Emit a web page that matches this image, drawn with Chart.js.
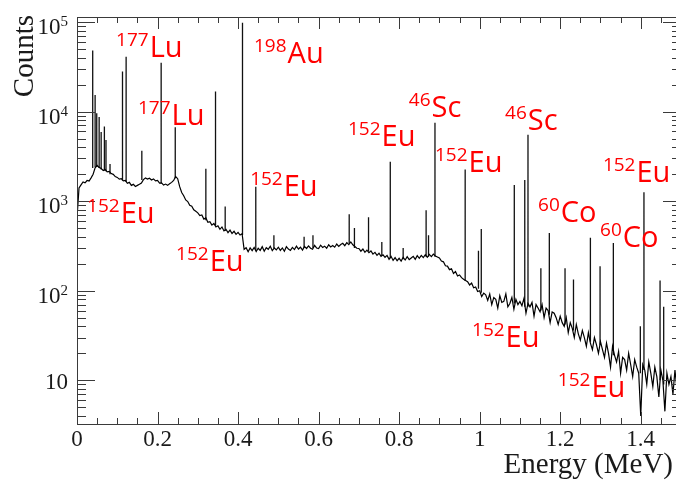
<!DOCTYPE html>
<html>
<head>
<meta charset="utf-8">
<script src="https://cdn.jsdelivr.net/npm/chart.js@4.4.0/dist/chart.umd.min.js"></script>
<style>
    html, body { margin: 0; padding: 0; background: #fff; overflow: hidden; }
    #wrap { width: 682px; height: 481px; }
</style>
</head>
<body>
<div id="wrap"><canvas id="spectrum" width="682" height="481"></canvas></div>
<script>
// --- Spectrum data ---
// continuum, one point every 5 keV
const bgEnergy = [
    0.000, 0.005, 0.010, 0.015, 0.020, 0.025, 0.030, 0.035, 0.040, 0.045,
    0.050, 0.055, 0.060, 0.065, 0.070, 0.075, 0.080, 0.085, 0.090, 0.095,
    0.100, 0.105, 0.110, 0.115, 0.120, 0.125, 0.130, 0.135, 0.140, 0.145,
    0.150, 0.155, 0.160, 0.165, 0.170, 0.175, 0.180, 0.185, 0.190, 0.195,
    0.200, 0.205, 0.210, 0.215, 0.220, 0.225, 0.230, 0.235, 0.240, 0.245,
    0.250, 0.255, 0.260, 0.265, 0.270, 0.275, 0.280, 0.285, 0.290, 0.295,
    0.300, 0.305, 0.310, 0.315, 0.320, 0.325, 0.330, 0.335, 0.340, 0.345,
    0.350, 0.355, 0.360, 0.365, 0.370, 0.375, 0.380, 0.385, 0.390, 0.395,
    0.400, 0.405, 0.410, 0.415, 0.420, 0.425, 0.430, 0.435, 0.440, 0.445,
    0.450, 0.455, 0.460, 0.465, 0.470, 0.475, 0.480, 0.485, 0.490, 0.495,
    0.500, 0.505, 0.510, 0.515, 0.520, 0.525, 0.530, 0.535, 0.540, 0.545,
    0.550, 0.555, 0.560, 0.565, 0.570, 0.575, 0.580, 0.585, 0.590, 0.595,
    0.600, 0.605, 0.610, 0.615, 0.620, 0.625, 0.630, 0.635, 0.640, 0.645,
    0.650, 0.655, 0.660, 0.665, 0.670, 0.675, 0.680, 0.685, 0.690, 0.695,
    0.700, 0.705, 0.710, 0.715, 0.720, 0.725, 0.730, 0.735, 0.740, 0.745,
    0.750, 0.755, 0.760, 0.765, 0.770, 0.775, 0.780, 0.785, 0.790, 0.795,
    0.800, 0.805, 0.810, 0.815, 0.820, 0.825, 0.830, 0.835, 0.840, 0.845,
    0.850, 0.855, 0.860, 0.865, 0.870, 0.875, 0.880, 0.885, 0.890, 0.895,
    0.900, 0.905, 0.910, 0.915, 0.920, 0.925, 0.930, 0.935, 0.940, 0.945,
    0.950, 0.955, 0.960, 0.965, 0.970, 0.975, 0.980, 0.985, 0.990, 0.995,
    1.000, 1.005, 1.010, 1.015, 1.020, 1.025, 1.030, 1.035, 1.040, 1.045,
    1.050, 1.055, 1.060, 1.065, 1.070, 1.075, 1.080, 1.085, 1.090, 1.095,
    1.100, 1.105, 1.110, 1.115, 1.120, 1.125, 1.130, 1.135, 1.140, 1.145,
    1.150, 1.155, 1.160, 1.165, 1.170, 1.175, 1.180, 1.185, 1.190, 1.195,
    1.200, 1.205, 1.210, 1.215, 1.220, 1.225, 1.230, 1.235, 1.240, 1.245,
    1.250, 1.255, 1.260, 1.265, 1.270, 1.275, 1.280, 1.285, 1.290, 1.295,
    1.300, 1.305, 1.310, 1.315, 1.320, 1.325, 1.330, 1.335, 1.340, 1.345,
    1.350, 1.355, 1.360, 1.365, 1.370, 1.375, 1.380, 1.385, 1.390, 1.395,
    1.400, 1.405, 1.410, 1.415, 1.420, 1.425, 1.430, 1.435, 1.440, 1.445,
    1.450, 1.455, 1.460, 1.465, 1.470, 1.475, 1.480, 1.485, 1.490, 1.495
];
const bgCounts = [
    650, 1400, 1520, 1640, 1600, 1700, 1680, 1820, 2000, 2350,
    2500, 2380, 2320, 2200, 2250, 2120, 2150, 2030, 1990, 1880,
    1840, 1760, 1780, 1680, 1700, 1580, 1620, 1500, 1540, 1460,
    1500, 1540, 1590, 1740, 1810, 1760, 1800, 1720, 1770, 1680,
    1700, 1590, 1600, 1510, 1550, 1500, 1560, 1620, 1700, 1880,
    1780, 1450, 1250, 1150, 1030, 990, 900, 880, 800, 770,
    740, 690, 700, 630, 650, 580, 590, 540, 565, 515,
    530, 485, 515, 465, 485, 445, 475, 435, 460, 425,
    448, 418, 432, 290, 302, 272, 300, 280, 304, 274,
    298, 282, 310, 276, 302, 290, 314, 280, 300, 286,
    306, 282, 300, 276, 310, 292, 282, 304, 288, 314,
    292, 306, 284, 312, 296, 316, 298, 290, 320, 300,
    296, 322, 304, 314, 298, 326, 308, 320, 306, 332,
    312, 328, 338, 318, 344, 328, 350, 326, 312, 298,
    296, 276, 292, 268, 284, 266, 278, 256, 268, 248,
    262, 242, 252, 236, 248, 224, 242, 218, 234, 216,
    230, 214, 236, 220, 240, 222, 232, 242, 224, 246,
    230, 248, 234, 252, 236, 254, 240, 256, 244, 238,
    232, 214, 210, 190, 188, 172, 176, 156, 164, 146,
    150, 140, 134, 130, 126, 116, 122, 108, 110, 98,
    100, 86, 94, 90, 78, 92, 70, 84, 80, 64,
    88, 74, 76, 92, 66, 72, 84, 62, 80, 70,
    76, 68, 82, 56, 72, 66, 74, 52, 70, 64,
    58, 70, 50, 64, 60, 44, 58, 56, 50, 42,
    52, 44, 40, 50, 34, 44, 38, 30, 42, 33,
    28, 36, 30, 24, 34, 26, 22, 30, 25, 20,
    27, 22, 18, 26, 20, 14, 24, 19, 16, 21,
    12, 18, 17, 13, 20, 15, 11, 17, 14, 12,
    4, 15, 13, 9, 16, 12, 8.5, 14, 11, 6.5,
    13, 10, 4.5, 12, 9, 11, 7, 13, 8, 10
];

// photopeaks: position, top of the peak, continuum under it
const peakEnergy = [
    0.039, 0.045, 0.049, 0.055, 0.060, 0.068, 0.072, 0.082, 0.113, 0.122,
    0.161, 0.209, 0.244, 0.320, 0.344, 0.368, 0.411, 0.444, 0.489, 0.564,
    0.586, 0.676, 0.689, 0.724, 0.757, 0.778, 0.810, 0.867, 0.873, 0.889,
    0.964, 0.997, 1.004, 1.086, 1.112, 1.120, 1.152, 1.173, 1.212, 1.233,
    1.275, 1.299, 1.332, 1.399, 1.408, 1.448, 1.457
];
const peakTop = [
    48000, 15300, 9600, 8700, 5900, 6800, 4800, 2600, 28000, 41000,
    3650, 35000, 6700, 2300, 16800, 870, 98000, 1450, 415, 400,
    415, 715, 500, 660, 350, 2750, 300, 790, 415, 7500,
    2250, 280, 490, 1510, 1720, 5500, 178, 440, 178, 133,
    390, 187, 340, 40, 1260, 130, 66
];
const peakBase = [
    2350, 2400, 2400, 2350, 2250, 2200, 2150, 2000, 1700, 1640,
    1720, 1570, 1800, 610, 530, 465, 420, 285, 300, 300,
    300, 340, 300, 275, 245, 230, 225, 240, 240, 240,
    128, 105, 95, 72, 66, 66, 60, 54, 42, 36,
    27, 25, 19, 12, 13, 10, 9
];

// axis ticks
const xTickValues = [0, 0.2, 0.4, 0.6, 0.8, 1.0, 1.2, 1.4];
const xTickLabels = ['0', '0.2', '0.4', '0.6', '0.8', '1', '1.2', '1.4'];
const yTickValues = [10, 100, 1000, 10000, 100000];
const yTickBase = ['10', '10', '10', '10', '10'];
const yTickExp = ['', '2', '3', '4', '5'];

// isotope tags, anchored in data coordinates (left of mass number, baseline)
const isotopeTags = [
    { mass: '177', sym: 'Lu', e: 0.097, c: 40600 },
    { mass: '177', sym: 'Lu', e: 0.1515, c: 7080 },
    { mass: '152', sym: 'Eu', e: 0.025, c: 570 },
    { mass: '152', sym: 'Eu', e: 0.246, c: 166 },
    { mass: '198', sym: 'Au', e: 0.4395, c: 34800 },
    { mass: '152', sym: 'Eu', e: 0.430, c: 1140 },
    { mass: '152', sym: 'Eu', e: 0.673, c: 4130 },
    { mass: '46', sym: 'Sc', e: 0.824, c: 8700 },
    { mass: '152', sym: 'Eu', e: 0.889, c: 2115 },
    { mass: '46', sym: 'Sc', e: 1.063, c: 6225 },
    { mass: '60', sym: 'Co', e: 1.145, c: 585 },
    { mass: '60', sym: 'Co', e: 1.299, c: 308 },
    { mass: '152', sym: 'Eu', e: 1.306, c: 1636 },
    { mass: '152', sym: 'Eu', e: 0.981, c: 23.5 },
    { mass: '152', sym: 'Eu', e: 1.194, c: 6.5 }
];

// --- build datasets ---
const continuum = bgEnergy.map((e, i) => ({ x: e, y: bgCounts[i] }));
const spikes = [];
peakEnergy.forEach((e, i) => {
    spikes.push({ x: e, y: peakBase[i] });
    spikes.push({ x: e, y: peakTop[i] });
    spikes.push({ x: e, y: null });
});

// --- ROOT-like frame: inward ticks on all four sides, labels, titles ---
const rootFrame = {
    id: 'rootFrame',
    afterDraw(chart) {
        const { ctx, chartArea: a, scales: { x, y } } = chart;
        ctx.save();
        ctx.strokeStyle = '#3a3a3a';
        ctx.lineWidth = 1;
        ctx.strokeRect(a.left + 0.5, a.top + 0.5, a.right - a.left - 1, a.bottom - a.top);

        ctx.beginPath();
        for (let i = 0; i <= 30; i++) {
            const px = Math.round(x.getPixelForValue(i * 0.05)) + 0.5;
            const len = i % 4 === 0 ? 12 : 6;
            ctx.moveTo(px, a.bottom); ctx.lineTo(px, a.bottom - len);
            ctx.moveTo(px, a.top); ctx.lineTo(px, a.top + len);
        }
        for (let d = 1; d <= 1e5; d *= 10) {
            for (let m = 1; m <= 9; m++) {
                const v = m * d;
                if (v < y.min || v > y.max) continue;
                const py = Math.round(y.getPixelForValue(v)) + 0.5;
                const len = m === 1 ? 18 : 9;
                ctx.moveTo(a.left, py); ctx.lineTo(a.left + len, py);
                ctx.moveTo(a.right, py); ctx.lineTo(a.right - len, py);
            }
        }
        ctx.stroke();

        // tick labels
        ctx.fillStyle = '#1a1a1a';
        ctx.font = '23px "Liberation Serif", "DejaVu Serif", serif';
        ctx.textAlign = 'center';
        ctx.textBaseline = 'alphabetic';
        xTickValues.forEach((v, i) => {
            ctx.fillText(xTickLabels[i], x.getPixelForValue(v), a.bottom + 22);
        });
        yTickValues.forEach((v, i) => {
            const py = y.getPixelForValue(v);
            ctx.textAlign = 'right';
            if (yTickExp[i]) {
                ctx.font = '15px "Liberation Serif", serif';
                ctx.fillText(yTickExp[i], a.left - 9, py + 4);
                const w = ctx.measureText(yTickExp[i]).width;
                ctx.font = '23px "Liberation Serif", serif';
                ctx.fillText(yTickBase[i], a.left - 9 - w, py + 12);
            } else {
                ctx.font = '23px "Liberation Serif", serif';
                ctx.fillText(yTickBase[i], a.left - 9, py + 9);
            }
        });

        // axis titles
        ctx.font = '29px "Liberation Serif", serif';
        ctx.textAlign = 'right';
        ctx.fillText('Energy (MeV)', 673, a.bottom + 49);
        ctx.save();
        ctx.translate(33, 15);
        ctx.rotate(-Math.PI / 2);
        ctx.font = '29px "Liberation Serif", serif';
        ctx.textAlign = 'right';
        ctx.fillText('Counts', 0, 0);
        ctx.restore();

        // isotope tags
        ctx.fillStyle = '#ff0000';
        ctx.textAlign = 'left';
        isotopeTags.forEach(t => {
            const px = x.getPixelForValue(t.e);
            const py = y.getPixelForValue(t.c);
            ctx.font = '19px "Open Sans", "Noto Sans", sans-serif';
            ctx.fillText(t.mass, px, py - 11);
            const w = ctx.measureText(t.mass).width;
            ctx.font = '29px "Open Sans", "Noto Sans", sans-serif';
            ctx.fillText(t.sym, px + w + 1, py);
        });
        ctx.restore();
    }
};

new Chart(document.getElementById('spectrum'), {
    type: 'line',
    data: {
        datasets: [
            { data: continuum, borderColor: '#000', borderWidth: 1.2, pointRadius: 0, tension: 0 },
            { data: spikes, borderColor: '#111', borderWidth: 1.3, pointRadius: 0, tension: 0, spanGaps: false }
        ]
    },
    options: {
        responsive: false,
        animation: false,
        devicePixelRatio: 1,
        layout: { padding: { left: 77, top: 17, right: 1, bottom: 57 } },
        scales: {
            x: { type: 'linear', min: 0, max: 1.5, display: false },
            y: { type: 'logarithmic', min: 3.25, max: 113700, display: false }
        },
        plugins: { legend: { display: false }, tooltip: { enabled: false } }
    },
    plugins: [rootFrame]
});
</script>
</body>
</html>
